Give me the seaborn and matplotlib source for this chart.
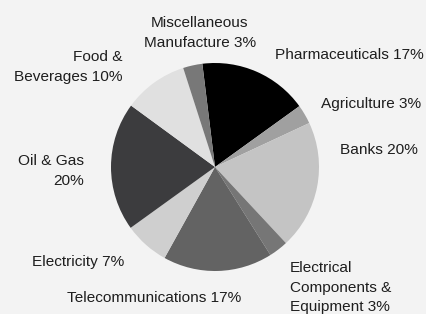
import matplotlib
matplotlib.use("Agg")
import matplotlib.pyplot as plt
import seaborn as sns

sectors = ["Pharmaceuticals", "Agriculture", "Banks",
           "Electrical\nComponents &\nEquipment", "Telecommunications",
           "Electricity", "Oil & Gas", "Food &\nBeverages",
           "Miscellaneous\nManufacture"]
shares = [17, 3, 20, 3, 17, 7, 20, 10, 3]
label_texts = ["Pharmaceuticals 17%", "Agriculture 3%", "Banks 20%",
               "Electrical\nComponents &\nEquipment 3%", "Telecommunications 17%",
               "Electricity 7%", "Oil & Gas\n20%", "Food &\nBeverages 10%",
               "Miscellaneous\nManufacture 3%"]
colors = ["#000000", "#a0a0a0", "#c4c4c4", "#767676", "#636363",
          "#cfcfcf", "#3c3c3e", "#e0e0e0", "#787878"]

# label anchor positions in pixel coords (x, y from top), alignment
label_pos = [(275, 55, "left"), (321, 104, "left"), (340, 150, "left"),
             (290, 288, "left"), (67, 298, "left"), (32, 262, "left"),
             (84, 171, "right"), (123, 67, "right"), (200, 33, "center")]

sns.set_theme(style="white")
plt.rcParams["font.family"] = ["Liberation Sans", "DejaVu Sans"]

W, H = 427, 314
fig = plt.figure(figsize=(W / 100, H / 100), dpi=100, facecolor="#f3f3f3")
cx, cy, r = 215, 167, 104
ax = fig.add_axes([(cx - r) / W, (H - cy - r) / H, 2 * r / W, 2 * r / H])
ax.set_facecolor("#f3f3f3")
ax.pie(shares, colors=colors, startangle=97, counterclock=False, radius=1,
       wedgeprops=dict(linewidth=0))
ax.set_xlim(-1, 1)
ax.set_ylim(-1, 1)
ax.set_aspect("equal")
ax.axis("off")

for txt, (x, y, ha) in zip(label_texts, label_pos):
    fig.text(x / W, 1 - y / H, txt, ha=ha, va="center", multialignment=ha,
             fontsize=11.1, color="#1e1e1e", linespacing=1.5)

fig.savefig("out.png", dpi=100, facecolor=fig.get_facecolor())
